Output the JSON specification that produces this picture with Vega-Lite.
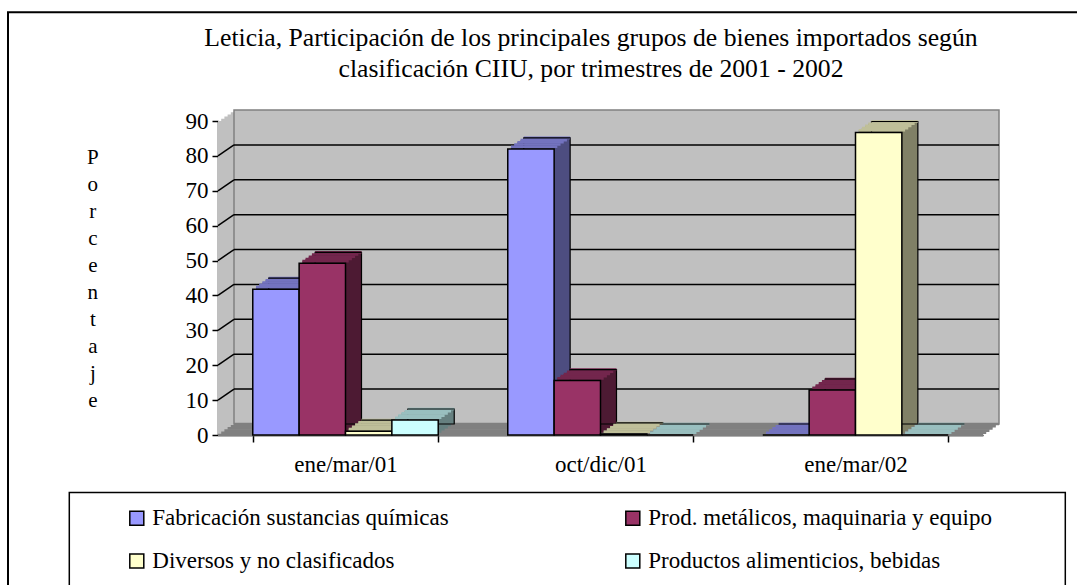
{
  "$schema": "https://vega.github.io/schema/vega-lite/v6.json",
  "width": 765,
  "height": 314,
  "autosize": "none",
  "padding": {"left": 218, "top": 121, "right": 94, "bottom": 150},
  "background": "white",
  "title": {
    "text": ["Leticia, Participación de los principales grupos de bienes importados según", "clasificación CIIU, por trimestres de 2001 - 2002"],
    "font": "Liberation Serif", "fontSize": 25.7, "fontWeight": "normal", "color": "black",
    "anchor": "middle", "frame": "group", "dx": -9.5, "baseline": "alphabetic", "lineHeight": 31, "offset": -91
  },
  "data": {"values": [
    {"q": "ene/mar/01", "c": "A", "s": "Fabricación sustancias químicas", "v": 41.8},
    {"q": "oct/dic/01", "c": "A", "s": "Fabricación sustancias químicas", "v": 82.0},
    {"q": "ene/mar/02", "c": "A", "s": "Fabricación sustancias químicas", "v": 0},
    {"q": "ene/mar/01", "c": "B", "s": "Prod. metálicos, maquinaria y equipo", "v": 49.2},
    {"q": "oct/dic/01", "c": "B", "s": "Prod. metálicos, maquinaria y equipo", "v": 15.6},
    {"q": "ene/mar/02", "c": "B", "s": "Prod. metálicos, maquinaria y equipo", "v": 12.9},
    {"q": "ene/mar/01", "c": "C", "s": "Diversos y no clasificados", "v": 1.1},
    {"q": "oct/dic/01", "c": "C", "s": "Diversos y no clasificados", "v": 0.3},
    {"q": "ene/mar/02", "c": "C", "s": "Diversos y no clasificados", "v": 86.7},
    {"q": "ene/mar/01", "c": "D", "s": "Productos alimenticios, bebidas", "v": 4.3},
    {"q": "oct/dic/01", "c": "D", "s": "Productos alimenticios, bebidas", "v": 0},
    {"q": "ene/mar/02", "c": "D", "s": "Productos alimenticios, bebidas", "v": 0}
  ]},
  "resolve": {"scale": {"xOffset": "independent"}},
  "layer": [
    {"data": {"values": [{}]}, "mark": {"type": "rect", "fill": "#C0C0C0"}, "encoding": {"x": {"value": 0}, "x2": {"value": "width"}, "y": {"datum": 0, "type": "quantitative", "scale": {"domain": [0, 90], "nice": false}}, "y2": {"datum": 90}}},
    {"data": {"values": [{}]}, "mark": {"type": "rect", "fill": "#C0C0C0", "xOffset": 3.2, "x2Offset": 3.2, "yOffset": -2.2, "y2Offset": -2.2}, "encoding": {"x": {"value": 0}, "x2": {"value": "width"}, "y": {"datum": 0, "type": "quantitative", "scale": {"domain": [0, 90], "nice": false}}, "y2": {"datum": 90}}},
    {"data": {"values": [{}]}, "mark": {"type": "rect", "fill": "#C0C0C0", "xOffset": 6.4, "x2Offset": 6.4, "yOffset": -4.4, "y2Offset": -4.4}, "encoding": {"x": {"value": 0}, "x2": {"value": "width"}, "y": {"datum": 0, "type": "quantitative", "scale": {"domain": [0, 90], "nice": false}}, "y2": {"datum": 90}}},
    {"data": {"values": [{}]}, "mark": {"type": "rect", "fill": "#C0C0C0", "xOffset": 9.6, "x2Offset": 9.6, "yOffset": -6.6, "y2Offset": -6.6}, "encoding": {"x": {"value": 0}, "x2": {"value": "width"}, "y": {"datum": 0, "type": "quantitative", "scale": {"domain": [0, 90], "nice": false}}, "y2": {"datum": 90}}},
    {"data": {"values": [{}]}, "mark": {"type": "rect", "fill": "#C0C0C0", "xOffset": 12.8, "x2Offset": 12.8, "yOffset": -8.8, "y2Offset": -8.8}, "encoding": {"x": {"value": 0}, "x2": {"value": "width"}, "y": {"datum": 0, "type": "quantitative", "scale": {"domain": [0, 90], "nice": false}}, "y2": {"datum": 90}}},
    {"data": {"values": [{}]}, "mark": {"type": "rect", "fill": "#C0C0C0", "stroke": "#808080", "strokeWidth": 1.5, "xOffset": 16, "x2Offset": 16, "yOffset": -11, "y2Offset": -11}, "encoding": {"x": {"value": 0}, "x2": {"value": "width"}, "y": {"datum": 0, "type": "quantitative", "scale": {"domain": [0, 90], "nice": false}}, "y2": {"datum": 90}}},
    {"data": {"values": [{"g": 10}, {"g": 20}, {"g": 30}, {"g": 40}, {"g": 50}, {"g": 60}, {"g": 70}, {"g": 80}]}, "mark": {"type": "rule", "color": "black", "strokeWidth": 1.5, "xOffset": 16, "x2Offset": 16, "yOffset": -11}, "encoding": {"x": {"value": 0}, "x2": {"value": "width"}, "y": {"field": "g", "type": "quantitative", "scale": {"domain": [0, 90], "nice": false}}}},
    {"data": {"values": [{"g": 10}, {"g": 20}, {"g": 30}, {"g": 40}, {"g": 50}, {"g": 60}, {"g": 70}, {"g": 80}]}, "mark": {"type": "rule", "color": "black", "strokeWidth": 1.5, "x2Offset": 16, "y2Offset": -11}, "encoding": {"x": {"value": 0}, "x2": {"value": 0}, "y": {"field": "g", "type": "quantitative", "scale": {"domain": [0, 90], "nice": false}}, "y2": {"field": "g"}}},
    {"data": {"values": [{}]}, "mark": {"type": "rect", "fill": "#808080", "stroke": "#808080", "strokeWidth": 2.6}, "encoding": {"x": {"value": 0}, "x2": {"value": "width"}, "y": {"datum": 0, "type": "quantitative", "scale": {"domain": [0, 90], "nice": false}}, "y2": {"datum": 0}}},
    {"data": {"values": [{}]}, "mark": {"type": "rect", "fill": "#808080", "stroke": "#808080", "strokeWidth": 2.6, "xOffset": 3.2, "x2Offset": 3.2, "yOffset": -2.2, "y2Offset": -2.2}, "encoding": {"x": {"value": 0}, "x2": {"value": "width"}, "y": {"datum": 0, "type": "quantitative", "scale": {"domain": [0, 90], "nice": false}}, "y2": {"datum": 0}}},
    {"data": {"values": [{}]}, "mark": {"type": "rect", "fill": "#808080", "stroke": "#808080", "strokeWidth": 2.6, "xOffset": 6.4, "x2Offset": 6.4, "yOffset": -4.4, "y2Offset": -4.4}, "encoding": {"x": {"value": 0}, "x2": {"value": "width"}, "y": {"datum": 0, "type": "quantitative", "scale": {"domain": [0, 90], "nice": false}}, "y2": {"datum": 0}}},
    {"data": {"values": [{}]}, "mark": {"type": "rect", "fill": "#808080", "stroke": "#808080", "strokeWidth": 2.6, "xOffset": 9.6, "x2Offset": 9.6, "yOffset": -6.6, "y2Offset": -6.6}, "encoding": {"x": {"value": 0}, "x2": {"value": "width"}, "y": {"datum": 0, "type": "quantitative", "scale": {"domain": [0, 90], "nice": false}}, "y2": {"datum": 0}}},
    {"data": {"values": [{}]}, "mark": {"type": "rect", "fill": "#808080", "stroke": "#808080", "strokeWidth": 2.6, "xOffset": 12.8, "x2Offset": 12.8, "yOffset": -8.8, "y2Offset": -8.8}, "encoding": {"x": {"value": 0}, "x2": {"value": "width"}, "y": {"datum": 0, "type": "quantitative", "scale": {"domain": [0, 90], "nice": false}}, "y2": {"datum": 0}}},
    {"data": {"values": [{}]}, "mark": {"type": "rect", "fill": "#808080", "stroke": "#808080", "strokeWidth": 2.6, "xOffset": 16, "x2Offset": 16, "yOffset": -11, "y2Offset": -11}, "encoding": {"x": {"value": 0}, "x2": {"value": "width"}, "y": {"datum": 0, "type": "quantitative", "scale": {"domain": [0, 90], "nice": false}}, "y2": {"datum": 0}}},

    {"transform": [{"filter": "datum.c == 'A'"}], "mark": {"type": "bar", "fill": "#4D4D80", "yOffset": -2.2, "y2Offset": -2.2}, "encoding": {"x": {"field": "q", "type": "nominal", "sort": ["ene/mar/01", "oct/dic/01", "ene/mar/02"], "title": null, "scale": {"paddingInner": 0.2727, "paddingOuter": 0.13635}}, "xOffset": {"field": "c", "scale": {"domain": ["A", "B", "C", "D"], "range": [3.2, 188.66], "paddingInner": 0, "paddingOuter": 0}}, "y": {"field": "v", "type": "quantitative", "scale": {"domain": [0, 90], "nice": false}}}},
    {"transform": [{"filter": "datum.c == 'A'"}], "mark": {"type": "bar", "fill": "#4D4D80", "yOffset": -4.4, "y2Offset": -4.4}, "encoding": {"x": {"field": "q", "type": "nominal", "sort": ["ene/mar/01", "oct/dic/01", "ene/mar/02"], "title": null, "scale": {"paddingInner": 0.2727, "paddingOuter": 0.13635}}, "xOffset": {"field": "c", "scale": {"domain": ["A", "B", "C", "D"], "range": [6.4, 191.86], "paddingInner": 0, "paddingOuter": 0}}, "y": {"field": "v", "type": "quantitative", "scale": {"domain": [0, 90], "nice": false}}}},
    {"transform": [{"filter": "datum.c == 'A'"}], "mark": {"type": "bar", "fill": "#4D4D80", "yOffset": -6.6, "y2Offset": -6.6}, "encoding": {"x": {"field": "q", "type": "nominal", "sort": ["ene/mar/01", "oct/dic/01", "ene/mar/02"], "title": null, "scale": {"paddingInner": 0.2727, "paddingOuter": 0.13635}}, "xOffset": {"field": "c", "scale": {"domain": ["A", "B", "C", "D"], "range": [9.6, 195.06], "paddingInner": 0, "paddingOuter": 0}}, "y": {"field": "v", "type": "quantitative", "scale": {"domain": [0, 90], "nice": false}}}},
    {"transform": [{"filter": "datum.c == 'A'"}], "mark": {"type": "bar", "fill": "#4D4D80", "yOffset": -8.8, "y2Offset": -8.8}, "encoding": {"x": {"field": "q", "type": "nominal", "sort": ["ene/mar/01", "oct/dic/01", "ene/mar/02"], "title": null, "scale": {"paddingInner": 0.2727, "paddingOuter": 0.13635}}, "xOffset": {"field": "c", "scale": {"domain": ["A", "B", "C", "D"], "range": [12.8, 198.26], "paddingInner": 0, "paddingOuter": 0}}, "y": {"field": "v", "type": "quantitative", "scale": {"domain": [0, 90], "nice": false}}}},
    {"transform": [{"filter": "datum.c == 'A'"}], "mark": {"type": "bar", "fill": "#4D4D80", "stroke": "black", "strokeWidth": 1.2, "yOffset": -11, "y2Offset": -11}, "encoding": {"x": {"field": "q", "type": "nominal", "sort": ["ene/mar/01", "oct/dic/01", "ene/mar/02"], "title": null, "scale": {"paddingInner": 0.2727, "paddingOuter": 0.13635}}, "xOffset": {"field": "c", "scale": {"domain": ["A", "B", "C", "D"], "range": [16, 201.46], "paddingInner": 0, "paddingOuter": 0}}, "y": {"field": "v", "type": "quantitative", "scale": {"domain": [0, 90], "nice": false}}}},
    {"transform": [{"filter": "datum.c == 'A'"}], "mark": {"type": "bar", "fill": "#7373BF", "stroke": "#7373BF", "strokeWidth": 2.6, "yOffset": -2.2, "y2Offset": -2.2}, "encoding": {"x": {"field": "q", "type": "nominal", "sort": ["ene/mar/01", "oct/dic/01", "ene/mar/02"], "title": null, "scale": {"paddingInner": 0.2727, "paddingOuter": 0.13635}}, "xOffset": {"field": "c", "scale": {"domain": ["A", "B", "C", "D"], "range": [3.2, 188.66], "paddingInner": 0, "paddingOuter": 0}}, "y": {"field": "v", "type": "quantitative", "scale": {"domain": [0, 90], "nice": false}}, "y2": {"field": "v"}}},
    {"transform": [{"filter": "datum.c == 'A'"}], "mark": {"type": "bar", "fill": "#7373BF", "stroke": "#7373BF", "strokeWidth": 2.6, "yOffset": -4.4, "y2Offset": -4.4}, "encoding": {"x": {"field": "q", "type": "nominal", "sort": ["ene/mar/01", "oct/dic/01", "ene/mar/02"], "title": null, "scale": {"paddingInner": 0.2727, "paddingOuter": 0.13635}}, "xOffset": {"field": "c", "scale": {"domain": ["A", "B", "C", "D"], "range": [6.4, 191.86], "paddingInner": 0, "paddingOuter": 0}}, "y": {"field": "v", "type": "quantitative", "scale": {"domain": [0, 90], "nice": false}}, "y2": {"field": "v"}}},
    {"transform": [{"filter": "datum.c == 'A'"}], "mark": {"type": "bar", "fill": "#7373BF", "stroke": "#7373BF", "strokeWidth": 2.6, "yOffset": -6.6, "y2Offset": -6.6}, "encoding": {"x": {"field": "q", "type": "nominal", "sort": ["ene/mar/01", "oct/dic/01", "ene/mar/02"], "title": null, "scale": {"paddingInner": 0.2727, "paddingOuter": 0.13635}}, "xOffset": {"field": "c", "scale": {"domain": ["A", "B", "C", "D"], "range": [9.6, 195.06], "paddingInner": 0, "paddingOuter": 0}}, "y": {"field": "v", "type": "quantitative", "scale": {"domain": [0, 90], "nice": false}}, "y2": {"field": "v"}}},
    {"transform": [{"filter": "datum.c == 'A'"}], "mark": {"type": "bar", "fill": "#7373BF", "stroke": "#7373BF", "strokeWidth": 2.6, "yOffset": -8.8, "y2Offset": -8.8}, "encoding": {"x": {"field": "q", "type": "nominal", "sort": ["ene/mar/01", "oct/dic/01", "ene/mar/02"], "title": null, "scale": {"paddingInner": 0.2727, "paddingOuter": 0.13635}}, "xOffset": {"field": "c", "scale": {"domain": ["A", "B", "C", "D"], "range": [12.8, 198.26], "paddingInner": 0, "paddingOuter": 0}}, "y": {"field": "v", "type": "quantitative", "scale": {"domain": [0, 90], "nice": false}}, "y2": {"field": "v"}}},
    {"transform": [{"filter": "datum.c == 'A'"}], "mark": {"type": "bar", "fill": "#7373BF", "stroke": "#7373BF", "strokeWidth": 2.6, "yOffset": -11, "y2Offset": -11}, "encoding": {"x": {"field": "q", "type": "nominal", "sort": ["ene/mar/01", "oct/dic/01", "ene/mar/02"], "title": null, "scale": {"paddingInner": 0.2727, "paddingOuter": 0.13635}}, "xOffset": {"field": "c", "scale": {"domain": ["A", "B", "C", "D"], "range": [16, 201.46], "paddingInner": 0, "paddingOuter": 0}}, "y": {"field": "v", "type": "quantitative", "scale": {"domain": [0, 90], "nice": false}}, "y2": {"field": "v"}}},
    {"transform": [{"filter": "datum.c == 'A'"}], "mark": {"type": "bar", "fill": "transparent", "stroke": "black", "strokeWidth": 1.2, "yOffset": -11, "y2Offset": -11}, "encoding": {"x": {"field": "q", "type": "nominal", "sort": ["ene/mar/01", "oct/dic/01", "ene/mar/02"], "title": null, "scale": {"paddingInner": 0.2727, "paddingOuter": 0.13635}}, "xOffset": {"field": "c", "scale": {"domain": ["A", "B", "C", "D"], "range": [16, 201.46], "paddingInner": 0, "paddingOuter": 0}}, "y": {"field": "v", "type": "quantitative", "scale": {"domain": [0, 90], "nice": false}}, "y2": {"field": "v"}}},
    {"transform": [{"filter": "datum.c == 'A'"}], "mark": {"type": "bar", "stroke": "black", "strokeWidth": 1.5}, "encoding": {"x": {"field": "q", "type": "nominal", "sort": ["ene/mar/01", "oct/dic/01", "ene/mar/02"], "title": null, "scale": {"paddingInner": 0.2727, "paddingOuter": 0.13635}}, "xOffset": {"field": "c", "scale": {"domain": ["A", "B", "C", "D"], "range": [0, 185.46], "paddingInner": 0, "paddingOuter": 0}}, "y": {"field": "v", "type": "quantitative", "scale": {"domain": [0, 90], "nice": false}, "axis": {"title": ["P", "o", "r", "c", "e", "n", "t", "a", "j", "e"]}}, "color": {"field": "s", "type": "nominal", "scale": {"domain": ["Fabricación sustancias químicas", "Prod. metálicos, maquinaria y equipo", "Diversos y no clasificados", "Productos alimenticios, bebidas"], "range": ["#9999FF", "#993366", "#FFFFCC", "#CCFFFF"]}, "legend": {"title": "\u00a0"}}}},

    {"transform": [{"filter": "datum.c == 'B'"}], "mark": {"type": "bar", "fill": "#4D1A33", "yOffset": -2.2, "y2Offset": -2.2}, "encoding": {"x": {"field": "q", "type": "nominal", "sort": ["ene/mar/01", "oct/dic/01", "ene/mar/02"], "title": null, "scale": {"paddingInner": 0.2727, "paddingOuter": 0.13635}}, "xOffset": {"field": "c", "scale": {"domain": ["A", "B", "C", "D"], "range": [3.2, 188.66], "paddingInner": 0, "paddingOuter": 0}}, "y": {"field": "v", "type": "quantitative", "scale": {"domain": [0, 90], "nice": false}}}},
    {"transform": [{"filter": "datum.c == 'B'"}], "mark": {"type": "bar", "fill": "#4D1A33", "yOffset": -4.4, "y2Offset": -4.4}, "encoding": {"x": {"field": "q", "type": "nominal", "sort": ["ene/mar/01", "oct/dic/01", "ene/mar/02"], "title": null, "scale": {"paddingInner": 0.2727, "paddingOuter": 0.13635}}, "xOffset": {"field": "c", "scale": {"domain": ["A", "B", "C", "D"], "range": [6.4, 191.86], "paddingInner": 0, "paddingOuter": 0}}, "y": {"field": "v", "type": "quantitative", "scale": {"domain": [0, 90], "nice": false}}}},
    {"transform": [{"filter": "datum.c == 'B'"}], "mark": {"type": "bar", "fill": "#4D1A33", "yOffset": -6.6, "y2Offset": -6.6}, "encoding": {"x": {"field": "q", "type": "nominal", "sort": ["ene/mar/01", "oct/dic/01", "ene/mar/02"], "title": null, "scale": {"paddingInner": 0.2727, "paddingOuter": 0.13635}}, "xOffset": {"field": "c", "scale": {"domain": ["A", "B", "C", "D"], "range": [9.6, 195.06], "paddingInner": 0, "paddingOuter": 0}}, "y": {"field": "v", "type": "quantitative", "scale": {"domain": [0, 90], "nice": false}}}},
    {"transform": [{"filter": "datum.c == 'B'"}], "mark": {"type": "bar", "fill": "#4D1A33", "yOffset": -8.8, "y2Offset": -8.8}, "encoding": {"x": {"field": "q", "type": "nominal", "sort": ["ene/mar/01", "oct/dic/01", "ene/mar/02"], "title": null, "scale": {"paddingInner": 0.2727, "paddingOuter": 0.13635}}, "xOffset": {"field": "c", "scale": {"domain": ["A", "B", "C", "D"], "range": [12.8, 198.26], "paddingInner": 0, "paddingOuter": 0}}, "y": {"field": "v", "type": "quantitative", "scale": {"domain": [0, 90], "nice": false}}}},
    {"transform": [{"filter": "datum.c == 'B'"}], "mark": {"type": "bar", "fill": "#4D1A33", "stroke": "black", "strokeWidth": 1.2, "yOffset": -11, "y2Offset": -11}, "encoding": {"x": {"field": "q", "type": "nominal", "sort": ["ene/mar/01", "oct/dic/01", "ene/mar/02"], "title": null, "scale": {"paddingInner": 0.2727, "paddingOuter": 0.13635}}, "xOffset": {"field": "c", "scale": {"domain": ["A", "B", "C", "D"], "range": [16, 201.46], "paddingInner": 0, "paddingOuter": 0}}, "y": {"field": "v", "type": "quantitative", "scale": {"domain": [0, 90], "nice": false}}}},
    {"transform": [{"filter": "datum.c == 'B'"}], "mark": {"type": "bar", "fill": "#73264D", "stroke": "#73264D", "strokeWidth": 2.6, "yOffset": -2.2, "y2Offset": -2.2}, "encoding": {"x": {"field": "q", "type": "nominal", "sort": ["ene/mar/01", "oct/dic/01", "ene/mar/02"], "title": null, "scale": {"paddingInner": 0.2727, "paddingOuter": 0.13635}}, "xOffset": {"field": "c", "scale": {"domain": ["A", "B", "C", "D"], "range": [3.2, 188.66], "paddingInner": 0, "paddingOuter": 0}}, "y": {"field": "v", "type": "quantitative", "scale": {"domain": [0, 90], "nice": false}}, "y2": {"field": "v"}}},
    {"transform": [{"filter": "datum.c == 'B'"}], "mark": {"type": "bar", "fill": "#73264D", "stroke": "#73264D", "strokeWidth": 2.6, "yOffset": -4.4, "y2Offset": -4.4}, "encoding": {"x": {"field": "q", "type": "nominal", "sort": ["ene/mar/01", "oct/dic/01", "ene/mar/02"], "title": null, "scale": {"paddingInner": 0.2727, "paddingOuter": 0.13635}}, "xOffset": {"field": "c", "scale": {"domain": ["A", "B", "C", "D"], "range": [6.4, 191.86], "paddingInner": 0, "paddingOuter": 0}}, "y": {"field": "v", "type": "quantitative", "scale": {"domain": [0, 90], "nice": false}}, "y2": {"field": "v"}}},
    {"transform": [{"filter": "datum.c == 'B'"}], "mark": {"type": "bar", "fill": "#73264D", "stroke": "#73264D", "strokeWidth": 2.6, "yOffset": -6.6, "y2Offset": -6.6}, "encoding": {"x": {"field": "q", "type": "nominal", "sort": ["ene/mar/01", "oct/dic/01", "ene/mar/02"], "title": null, "scale": {"paddingInner": 0.2727, "paddingOuter": 0.13635}}, "xOffset": {"field": "c", "scale": {"domain": ["A", "B", "C", "D"], "range": [9.6, 195.06], "paddingInner": 0, "paddingOuter": 0}}, "y": {"field": "v", "type": "quantitative", "scale": {"domain": [0, 90], "nice": false}}, "y2": {"field": "v"}}},
    {"transform": [{"filter": "datum.c == 'B'"}], "mark": {"type": "bar", "fill": "#73264D", "stroke": "#73264D", "strokeWidth": 2.6, "yOffset": -8.8, "y2Offset": -8.8}, "encoding": {"x": {"field": "q", "type": "nominal", "sort": ["ene/mar/01", "oct/dic/01", "ene/mar/02"], "title": null, "scale": {"paddingInner": 0.2727, "paddingOuter": 0.13635}}, "xOffset": {"field": "c", "scale": {"domain": ["A", "B", "C", "D"], "range": [12.8, 198.26], "paddingInner": 0, "paddingOuter": 0}}, "y": {"field": "v", "type": "quantitative", "scale": {"domain": [0, 90], "nice": false}}, "y2": {"field": "v"}}},
    {"transform": [{"filter": "datum.c == 'B'"}], "mark": {"type": "bar", "fill": "#73264D", "stroke": "#73264D", "strokeWidth": 2.6, "yOffset": -11, "y2Offset": -11}, "encoding": {"x": {"field": "q", "type": "nominal", "sort": ["ene/mar/01", "oct/dic/01", "ene/mar/02"], "title": null, "scale": {"paddingInner": 0.2727, "paddingOuter": 0.13635}}, "xOffset": {"field": "c", "scale": {"domain": ["A", "B", "C", "D"], "range": [16, 201.46], "paddingInner": 0, "paddingOuter": 0}}, "y": {"field": "v", "type": "quantitative", "scale": {"domain": [0, 90], "nice": false}}, "y2": {"field": "v"}}},
    {"transform": [{"filter": "datum.c == 'B'"}], "mark": {"type": "bar", "fill": "transparent", "stroke": "black", "strokeWidth": 1.2, "yOffset": -11, "y2Offset": -11}, "encoding": {"x": {"field": "q", "type": "nominal", "sort": ["ene/mar/01", "oct/dic/01", "ene/mar/02"], "title": null, "scale": {"paddingInner": 0.2727, "paddingOuter": 0.13635}}, "xOffset": {"field": "c", "scale": {"domain": ["A", "B", "C", "D"], "range": [16, 201.46], "paddingInner": 0, "paddingOuter": 0}}, "y": {"field": "v", "type": "quantitative", "scale": {"domain": [0, 90], "nice": false}}, "y2": {"field": "v"}}},
    {"transform": [{"filter": "datum.c == 'B'"}], "mark": {"type": "bar", "stroke": "black", "strokeWidth": 1.5}, "encoding": {"x": {"field": "q", "type": "nominal", "sort": ["ene/mar/01", "oct/dic/01", "ene/mar/02"], "title": null, "scale": {"paddingInner": 0.2727, "paddingOuter": 0.13635}}, "xOffset": {"field": "c", "scale": {"domain": ["A", "B", "C", "D"], "range": [0, 185.46], "paddingInner": 0, "paddingOuter": 0}}, "y": {"field": "v", "type": "quantitative", "scale": {"domain": [0, 90], "nice": false}}, "color": {"field": "s", "type": "nominal", "scale": {"domain": ["Fabricación sustancias químicas", "Prod. metálicos, maquinaria y equipo", "Diversos y no clasificados", "Productos alimenticios, bebidas"], "range": ["#9999FF", "#993366", "#FFFFCC", "#CCFFFF"]}}}},

    {"transform": [{"filter": "datum.c == 'C'"}], "mark": {"type": "bar", "fill": "#808066", "yOffset": -2.2, "y2Offset": -2.2}, "encoding": {"x": {"field": "q", "type": "nominal", "sort": ["ene/mar/01", "oct/dic/01", "ene/mar/02"], "title": null, "scale": {"paddingInner": 0.2727, "paddingOuter": 0.13635}}, "xOffset": {"field": "c", "scale": {"domain": ["A", "B", "C", "D"], "range": [3.2, 188.66], "paddingInner": 0, "paddingOuter": 0}}, "y": {"field": "v", "type": "quantitative", "scale": {"domain": [0, 90], "nice": false}}}},
    {"transform": [{"filter": "datum.c == 'C'"}], "mark": {"type": "bar", "fill": "#808066", "yOffset": -4.4, "y2Offset": -4.4}, "encoding": {"x": {"field": "q", "type": "nominal", "sort": ["ene/mar/01", "oct/dic/01", "ene/mar/02"], "title": null, "scale": {"paddingInner": 0.2727, "paddingOuter": 0.13635}}, "xOffset": {"field": "c", "scale": {"domain": ["A", "B", "C", "D"], "range": [6.4, 191.86], "paddingInner": 0, "paddingOuter": 0}}, "y": {"field": "v", "type": "quantitative", "scale": {"domain": [0, 90], "nice": false}}}},
    {"transform": [{"filter": "datum.c == 'C'"}], "mark": {"type": "bar", "fill": "#808066", "yOffset": -6.6, "y2Offset": -6.6}, "encoding": {"x": {"field": "q", "type": "nominal", "sort": ["ene/mar/01", "oct/dic/01", "ene/mar/02"], "title": null, "scale": {"paddingInner": 0.2727, "paddingOuter": 0.13635}}, "xOffset": {"field": "c", "scale": {"domain": ["A", "B", "C", "D"], "range": [9.6, 195.06], "paddingInner": 0, "paddingOuter": 0}}, "y": {"field": "v", "type": "quantitative", "scale": {"domain": [0, 90], "nice": false}}}},
    {"transform": [{"filter": "datum.c == 'C'"}], "mark": {"type": "bar", "fill": "#808066", "yOffset": -8.8, "y2Offset": -8.8}, "encoding": {"x": {"field": "q", "type": "nominal", "sort": ["ene/mar/01", "oct/dic/01", "ene/mar/02"], "title": null, "scale": {"paddingInner": 0.2727, "paddingOuter": 0.13635}}, "xOffset": {"field": "c", "scale": {"domain": ["A", "B", "C", "D"], "range": [12.8, 198.26], "paddingInner": 0, "paddingOuter": 0}}, "y": {"field": "v", "type": "quantitative", "scale": {"domain": [0, 90], "nice": false}}}},
    {"transform": [{"filter": "datum.c == 'C'"}], "mark": {"type": "bar", "fill": "#808066", "stroke": "black", "strokeWidth": 1.2, "yOffset": -11, "y2Offset": -11}, "encoding": {"x": {"field": "q", "type": "nominal", "sort": ["ene/mar/01", "oct/dic/01", "ene/mar/02"], "title": null, "scale": {"paddingInner": 0.2727, "paddingOuter": 0.13635}}, "xOffset": {"field": "c", "scale": {"domain": ["A", "B", "C", "D"], "range": [16, 201.46], "paddingInner": 0, "paddingOuter": 0}}, "y": {"field": "v", "type": "quantitative", "scale": {"domain": [0, 90], "nice": false}}}},
    {"transform": [{"filter": "datum.c == 'C'"}], "mark": {"type": "bar", "fill": "#BFBF99", "stroke": "#BFBF99", "strokeWidth": 2.6, "yOffset": -2.2, "y2Offset": -2.2}, "encoding": {"x": {"field": "q", "type": "nominal", "sort": ["ene/mar/01", "oct/dic/01", "ene/mar/02"], "title": null, "scale": {"paddingInner": 0.2727, "paddingOuter": 0.13635}}, "xOffset": {"field": "c", "scale": {"domain": ["A", "B", "C", "D"], "range": [3.2, 188.66], "paddingInner": 0, "paddingOuter": 0}}, "y": {"field": "v", "type": "quantitative", "scale": {"domain": [0, 90], "nice": false}}, "y2": {"field": "v"}}},
    {"transform": [{"filter": "datum.c == 'C'"}], "mark": {"type": "bar", "fill": "#BFBF99", "stroke": "#BFBF99", "strokeWidth": 2.6, "yOffset": -4.4, "y2Offset": -4.4}, "encoding": {"x": {"field": "q", "type": "nominal", "sort": ["ene/mar/01", "oct/dic/01", "ene/mar/02"], "title": null, "scale": {"paddingInner": 0.2727, "paddingOuter": 0.13635}}, "xOffset": {"field": "c", "scale": {"domain": ["A", "B", "C", "D"], "range": [6.4, 191.86], "paddingInner": 0, "paddingOuter": 0}}, "y": {"field": "v", "type": "quantitative", "scale": {"domain": [0, 90], "nice": false}}, "y2": {"field": "v"}}},
    {"transform": [{"filter": "datum.c == 'C'"}], "mark": {"type": "bar", "fill": "#BFBF99", "stroke": "#BFBF99", "strokeWidth": 2.6, "yOffset": -6.6, "y2Offset": -6.6}, "encoding": {"x": {"field": "q", "type": "nominal", "sort": ["ene/mar/01", "oct/dic/01", "ene/mar/02"], "title": null, "scale": {"paddingInner": 0.2727, "paddingOuter": 0.13635}}, "xOffset": {"field": "c", "scale": {"domain": ["A", "B", "C", "D"], "range": [9.6, 195.06], "paddingInner": 0, "paddingOuter": 0}}, "y": {"field": "v", "type": "quantitative", "scale": {"domain": [0, 90], "nice": false}}, "y2": {"field": "v"}}},
    {"transform": [{"filter": "datum.c == 'C'"}], "mark": {"type": "bar", "fill": "#BFBF99", "stroke": "#BFBF99", "strokeWidth": 2.6, "yOffset": -8.8, "y2Offset": -8.8}, "encoding": {"x": {"field": "q", "type": "nominal", "sort": ["ene/mar/01", "oct/dic/01", "ene/mar/02"], "title": null, "scale": {"paddingInner": 0.2727, "paddingOuter": 0.13635}}, "xOffset": {"field": "c", "scale": {"domain": ["A", "B", "C", "D"], "range": [12.8, 198.26], "paddingInner": 0, "paddingOuter": 0}}, "y": {"field": "v", "type": "quantitative", "scale": {"domain": [0, 90], "nice": false}}, "y2": {"field": "v"}}},
    {"transform": [{"filter": "datum.c == 'C'"}], "mark": {"type": "bar", "fill": "#BFBF99", "stroke": "#BFBF99", "strokeWidth": 2.6, "yOffset": -11, "y2Offset": -11}, "encoding": {"x": {"field": "q", "type": "nominal", "sort": ["ene/mar/01", "oct/dic/01", "ene/mar/02"], "title": null, "scale": {"paddingInner": 0.2727, "paddingOuter": 0.13635}}, "xOffset": {"field": "c", "scale": {"domain": ["A", "B", "C", "D"], "range": [16, 201.46], "paddingInner": 0, "paddingOuter": 0}}, "y": {"field": "v", "type": "quantitative", "scale": {"domain": [0, 90], "nice": false}}, "y2": {"field": "v"}}},
    {"transform": [{"filter": "datum.c == 'C'"}], "mark": {"type": "bar", "fill": "transparent", "stroke": "black", "strokeWidth": 1.2, "yOffset": -11, "y2Offset": -11}, "encoding": {"x": {"field": "q", "type": "nominal", "sort": ["ene/mar/01", "oct/dic/01", "ene/mar/02"], "title": null, "scale": {"paddingInner": 0.2727, "paddingOuter": 0.13635}}, "xOffset": {"field": "c", "scale": {"domain": ["A", "B", "C", "D"], "range": [16, 201.46], "paddingInner": 0, "paddingOuter": 0}}, "y": {"field": "v", "type": "quantitative", "scale": {"domain": [0, 90], "nice": false}}, "y2": {"field": "v"}}},
    {"transform": [{"filter": "datum.c == 'C'"}], "mark": {"type": "bar", "stroke": "black", "strokeWidth": 1.5}, "encoding": {"x": {"field": "q", "type": "nominal", "sort": ["ene/mar/01", "oct/dic/01", "ene/mar/02"], "title": null, "scale": {"paddingInner": 0.2727, "paddingOuter": 0.13635}}, "xOffset": {"field": "c", "scale": {"domain": ["A", "B", "C", "D"], "range": [0, 185.46], "paddingInner": 0, "paddingOuter": 0}}, "y": {"field": "v", "type": "quantitative", "scale": {"domain": [0, 90], "nice": false}}, "color": {"field": "s", "type": "nominal", "scale": {"domain": ["Fabricación sustancias químicas", "Prod. metálicos, maquinaria y equipo", "Diversos y no clasificados", "Productos alimenticios, bebidas"], "range": ["#9999FF", "#993366", "#FFFFCC", "#CCFFFF"]}}}},

    {"transform": [{"filter": "datum.c == 'D'"}], "mark": {"type": "bar", "fill": "#668080", "yOffset": -2.2, "y2Offset": -2.2}, "encoding": {"x": {"field": "q", "type": "nominal", "sort": ["ene/mar/01", "oct/dic/01", "ene/mar/02"], "title": null, "scale": {"paddingInner": 0.2727, "paddingOuter": 0.13635}}, "xOffset": {"field": "c", "scale": {"domain": ["A", "B", "C", "D"], "range": [3.2, 188.66], "paddingInner": 0, "paddingOuter": 0}}, "y": {"field": "v", "type": "quantitative", "scale": {"domain": [0, 90], "nice": false}}}},
    {"transform": [{"filter": "datum.c == 'D'"}], "mark": {"type": "bar", "fill": "#668080", "yOffset": -4.4, "y2Offset": -4.4}, "encoding": {"x": {"field": "q", "type": "nominal", "sort": ["ene/mar/01", "oct/dic/01", "ene/mar/02"], "title": null, "scale": {"paddingInner": 0.2727, "paddingOuter": 0.13635}}, "xOffset": {"field": "c", "scale": {"domain": ["A", "B", "C", "D"], "range": [6.4, 191.86], "paddingInner": 0, "paddingOuter": 0}}, "y": {"field": "v", "type": "quantitative", "scale": {"domain": [0, 90], "nice": false}}}},
    {"transform": [{"filter": "datum.c == 'D'"}], "mark": {"type": "bar", "fill": "#668080", "yOffset": -6.6, "y2Offset": -6.6}, "encoding": {"x": {"field": "q", "type": "nominal", "sort": ["ene/mar/01", "oct/dic/01", "ene/mar/02"], "title": null, "scale": {"paddingInner": 0.2727, "paddingOuter": 0.13635}}, "xOffset": {"field": "c", "scale": {"domain": ["A", "B", "C", "D"], "range": [9.6, 195.06], "paddingInner": 0, "paddingOuter": 0}}, "y": {"field": "v", "type": "quantitative", "scale": {"domain": [0, 90], "nice": false}}}},
    {"transform": [{"filter": "datum.c == 'D'"}], "mark": {"type": "bar", "fill": "#668080", "yOffset": -8.8, "y2Offset": -8.8}, "encoding": {"x": {"field": "q", "type": "nominal", "sort": ["ene/mar/01", "oct/dic/01", "ene/mar/02"], "title": null, "scale": {"paddingInner": 0.2727, "paddingOuter": 0.13635}}, "xOffset": {"field": "c", "scale": {"domain": ["A", "B", "C", "D"], "range": [12.8, 198.26], "paddingInner": 0, "paddingOuter": 0}}, "y": {"field": "v", "type": "quantitative", "scale": {"domain": [0, 90], "nice": false}}}},
    {"transform": [{"filter": "datum.c == 'D'"}], "mark": {"type": "bar", "fill": "#668080", "stroke": "black", "strokeWidth": 1.2, "yOffset": -11, "y2Offset": -11}, "encoding": {"x": {"field": "q", "type": "nominal", "sort": ["ene/mar/01", "oct/dic/01", "ene/mar/02"], "title": null, "scale": {"paddingInner": 0.2727, "paddingOuter": 0.13635}}, "xOffset": {"field": "c", "scale": {"domain": ["A", "B", "C", "D"], "range": [16, 201.46], "paddingInner": 0, "paddingOuter": 0}}, "y": {"field": "v", "type": "quantitative", "scale": {"domain": [0, 90], "nice": false}}}},
    {"transform": [{"filter": "datum.c == 'D'"}], "mark": {"type": "bar", "fill": "#99BFBF", "stroke": "#99BFBF", "strokeWidth": 2.6, "yOffset": -2.2, "y2Offset": -2.2}, "encoding": {"x": {"field": "q", "type": "nominal", "sort": ["ene/mar/01", "oct/dic/01", "ene/mar/02"], "title": null, "scale": {"paddingInner": 0.2727, "paddingOuter": 0.13635}}, "xOffset": {"field": "c", "scale": {"domain": ["A", "B", "C", "D"], "range": [3.2, 188.66], "paddingInner": 0, "paddingOuter": 0}}, "y": {"field": "v", "type": "quantitative", "scale": {"domain": [0, 90], "nice": false}}, "y2": {"field": "v"}}},
    {"transform": [{"filter": "datum.c == 'D'"}], "mark": {"type": "bar", "fill": "#99BFBF", "stroke": "#99BFBF", "strokeWidth": 2.6, "yOffset": -4.4, "y2Offset": -4.4}, "encoding": {"x": {"field": "q", "type": "nominal", "sort": ["ene/mar/01", "oct/dic/01", "ene/mar/02"], "title": null, "scale": {"paddingInner": 0.2727, "paddingOuter": 0.13635}}, "xOffset": {"field": "c", "scale": {"domain": ["A", "B", "C", "D"], "range": [6.4, 191.86], "paddingInner": 0, "paddingOuter": 0}}, "y": {"field": "v", "type": "quantitative", "scale": {"domain": [0, 90], "nice": false}}, "y2": {"field": "v"}}},
    {"transform": [{"filter": "datum.c == 'D'"}], "mark": {"type": "bar", "fill": "#99BFBF", "stroke": "#99BFBF", "strokeWidth": 2.6, "yOffset": -6.6, "y2Offset": -6.6}, "encoding": {"x": {"field": "q", "type": "nominal", "sort": ["ene/mar/01", "oct/dic/01", "ene/mar/02"], "title": null, "scale": {"paddingInner": 0.2727, "paddingOuter": 0.13635}}, "xOffset": {"field": "c", "scale": {"domain": ["A", "B", "C", "D"], "range": [9.6, 195.06], "paddingInner": 0, "paddingOuter": 0}}, "y": {"field": "v", "type": "quantitative", "scale": {"domain": [0, 90], "nice": false}}, "y2": {"field": "v"}}},
    {"transform": [{"filter": "datum.c == 'D'"}], "mark": {"type": "bar", "fill": "#99BFBF", "stroke": "#99BFBF", "strokeWidth": 2.6, "yOffset": -8.8, "y2Offset": -8.8}, "encoding": {"x": {"field": "q", "type": "nominal", "sort": ["ene/mar/01", "oct/dic/01", "ene/mar/02"], "title": null, "scale": {"paddingInner": 0.2727, "paddingOuter": 0.13635}}, "xOffset": {"field": "c", "scale": {"domain": ["A", "B", "C", "D"], "range": [12.8, 198.26], "paddingInner": 0, "paddingOuter": 0}}, "y": {"field": "v", "type": "quantitative", "scale": {"domain": [0, 90], "nice": false}}, "y2": {"field": "v"}}},
    {"transform": [{"filter": "datum.c == 'D'"}], "mark": {"type": "bar", "fill": "#99BFBF", "stroke": "#99BFBF", "strokeWidth": 2.6, "yOffset": -11, "y2Offset": -11}, "encoding": {"x": {"field": "q", "type": "nominal", "sort": ["ene/mar/01", "oct/dic/01", "ene/mar/02"], "title": null, "scale": {"paddingInner": 0.2727, "paddingOuter": 0.13635}}, "xOffset": {"field": "c", "scale": {"domain": ["A", "B", "C", "D"], "range": [16, 201.46], "paddingInner": 0, "paddingOuter": 0}}, "y": {"field": "v", "type": "quantitative", "scale": {"domain": [0, 90], "nice": false}}, "y2": {"field": "v"}}},
    {"transform": [{"filter": "datum.c == 'D'"}], "mark": {"type": "bar", "fill": "transparent", "stroke": "black", "strokeWidth": 1.2, "yOffset": -11, "y2Offset": -11}, "encoding": {"x": {"field": "q", "type": "nominal", "sort": ["ene/mar/01", "oct/dic/01", "ene/mar/02"], "title": null, "scale": {"paddingInner": 0.2727, "paddingOuter": 0.13635}}, "xOffset": {"field": "c", "scale": {"domain": ["A", "B", "C", "D"], "range": [16, 201.46], "paddingInner": 0, "paddingOuter": 0}}, "y": {"field": "v", "type": "quantitative", "scale": {"domain": [0, 90], "nice": false}}, "y2": {"field": "v"}}},
    {"transform": [{"filter": "datum.c == 'D'"}], "mark": {"type": "bar", "stroke": "black", "strokeWidth": 1.5}, "encoding": {"x": {"field": "q", "type": "nominal", "sort": ["ene/mar/01", "oct/dic/01", "ene/mar/02"], "title": null, "scale": {"paddingInner": 0.2727, "paddingOuter": 0.13635}}, "xOffset": {"field": "c", "scale": {"domain": ["A", "B", "C", "D"], "range": [0, 185.46], "paddingInner": 0, "paddingOuter": 0}}, "y": {"field": "v", "type": "quantitative", "scale": {"domain": [0, 90], "nice": false}}, "color": {"field": "s", "type": "nominal", "scale": {"domain": ["Fabricación sustancias químicas", "Prod. metálicos, maquinaria y equipo", "Diversos y no clasificados", "Productos alimenticios, bebidas"], "range": ["#9999FF", "#993366", "#FFFFCC", "#CCFFFF"]}}}},

    {"data": {"values": [{}]}, "mark": {"type": "rect", "fill": "transparent", "stroke": "black", "strokeWidth": 2, "xOffset": -210, "x2Offset": 100, "yOffset": -108.7, "y2Offset": 200}, "encoding": {"x": {"value": 0}, "x2": {"value": "width"}, "y": {"value": 0}, "y2": {"value": "height"}}}
  ],
  "config": {
    "font": "Liberation Serif",
    "view": {"stroke": null},
    "axis": {
      "labelFont": "Liberation Serif", "labelFontSize": 23, "labelColor": "black",
      "domainColor": "black", "domainWidth": 1.5, "tickColor": "black", "tickWidth": 1.5,
      "grid": false, "zindex": 1,
      "titleFont": "Liberation Serif", "titleFontSize": 21, "titleFontWeight": "normal", "titleColor": "black"
    },
    "axisX": {"tickSize": 7, "labelPadding": 11, "tickBand": "extent", "labelAngle": 0},
    "axisY": {"tickSize": 6, "labelPadding": 4, "tickCount": 10, "titleAngle": 0, "titleAlign": "center", "titleBaseline": "alphabetic", "titleX": -125.7, "titleY": 42, "titleLineHeight": 27.1},
    "legend": {
      "orient": "none", "legendX": -148.7, "legendY": 371.5, "columns": 2, "direction": "horizontal",
      "titleOrient": "right", "titlePadding": 59, "titleFont": "Liberation Serif", "titleFontSize": 23,
      "symbolType": "square", "symbolSize": 196, "symbolStrokeColor": "black", "symbolStrokeWidth": 1.5,
      "labelFont": "Liberation Serif", "labelFontSize": 23, "labelColor": "black", "labelLimit": 600,
      "symbolOffset": 42, "labelOffset": 4, "columnPadding": 130, "rowPadding": 19,
      "padding": 14, "strokeColor": "black", "strokeWidth": 1.5
    }
  }
}
